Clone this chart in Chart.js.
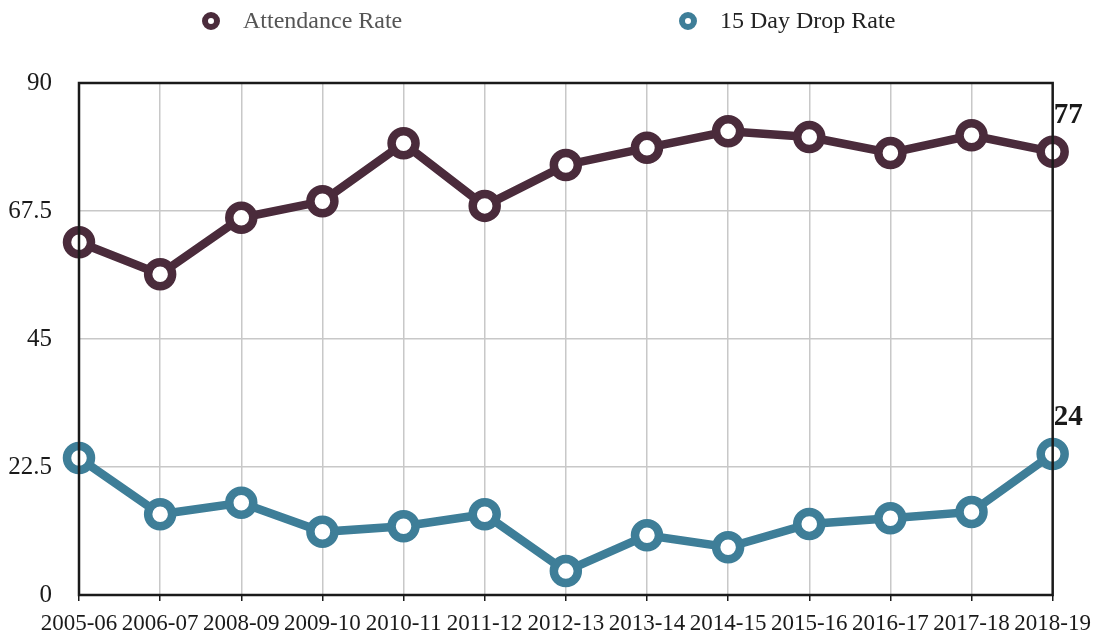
<!DOCTYPE html>
<html>
<head>
<meta charset="utf-8">
<script src="https://cdn.jsdelivr.net/npm/chart.js@4"></script>
<style>
  html, body { margin: 0; padding: 0; background: #fff; overflow: hidden; }
  #wrap { position: relative; width: 1100px; height: 634px; }
  canvas { display: block; }
  #legend { position: absolute; top: 0; left: 0; width: 1100px; height: 44px; font-family: "Liberation Serif", serif; font-size: 24px; }
  .item { position: absolute; top: 7px; display: flex; align-items: center; }
  .dot { width: 6px; height: 6px; border-radius: 50%; border: 6px solid; background: #fff; margin-right: 23px; }
</style>
</head>
<body>
<div id="wrap">
  <canvas id="c" width="1100" height="634"></canvas>
  <div id="legend"></div>
</div>
<script>
const categories = ["2005-06","2006-07","2008-09","2009-10","2010-11","2011-12","2012-13","2013-14","2014-15","2015-16","2016-17","2017-18","2018-19"];
const attendanceRate = [62.0, 56.4, 66.3, 69.2, 79.4, 68.4, 75.6, 78.6, 81.5, 80.5, 77.7, 80.8, 77.9];
const dropRate = [24.1, 14.2, 16.2, 11.1, 12.1, 14.2, 4.2, 10.5, 8.4, 12.5, 13.5, 14.6, 24.8];
const seriesNames = ["Attendance Rate", "15 Day Drop Rate"];
const yTicks = [0, 22.5, 45, 67.5, 90];

const colors = ["#4a2b3b", "#3e7e98"];
const textColors = ["#555", "#222"];
const legendX = [202, 679];

const legend = document.getElementById('legend');
seriesNames.forEach((n, i) => {
  const d = document.createElement('div');
  d.className = 'item';
  d.style.left = legendX[i] + 'px';
  d.style.color = textColors[i];
  d.innerHTML = '<span class="dot" style="border-color:' + colors[i] + '"></span><span>' + n + '</span>';
  legend.appendChild(d);
});

const frame = {
  id: 'frame',
  afterDatasetsDraw(chart) {
    const {ctx, chartArea: a} = chart;
    ctx.save();
    ctx.strokeStyle = '#1a1a1a';
    ctx.lineWidth = 2.5;
    ctx.strokeRect(a.left, a.top, a.right - a.left, a.bottom - a.top);
    ctx.restore();
  }
};

const endLabels = {
  id: 'endLabels',
  afterDraw(chart) {
    const {ctx} = chart;
    ctx.save();
    ctx.font = 'bold 29px "Liberation Serif", serif';
    ctx.fillStyle = '#1a1a1a';
    ctx.textAlign = 'left';
    ctx.textBaseline = 'middle';
    chart.data.datasets.forEach((ds, i) => {
      const meta = chart.getDatasetMeta(i);
      const last = meta.data[meta.data.length - 1];
      const v = ds.data[ds.data.length - 1];
      ctx.fillText(String(Math.floor(v)), last.x + 1, last.y - 36);
    });
    ctx.restore();
  }
};

new Chart(document.getElementById('c'), {
  type: 'line',
  data: {
    labels: categories,
    datasets: [
      { label: seriesNames[0], data: attendanceRate, borderColor: colors[0], backgroundColor: '#fff',
        borderWidth: 8.5, pointRadius: 12, pointBorderWidth: 8.5, pointBackgroundColor: '#fff', pointBorderColor: colors[0], tension: 0 },
      { label: seriesNames[1], data: dropRate, borderColor: colors[1], backgroundColor: '#fff',
        borderWidth: 8.5, pointRadius: 12, pointBorderWidth: 8.5, pointBackgroundColor: '#fff', pointBorderColor: colors[1], tension: 0 }
    ]
  },
  options: {
    responsive: false,
    animation: false,
    layout: { padding: { top: 83, right: 45, left: 0, bottom: 0 } },
    plugins: { legend: { display: false }, tooltip: { enabled: false } },
    scales: {
      x: {
        offset: false,
        afterFit(s) { s.height = 39; },
        grid: { color: '#c8c8c8', lineWidth: 1.5, drawTicks: true, tickLength: 6, tickColor: '#1a1a1a' },
        border: { display: false },
        ticks: { autoSkip: false, maxRotation: 0, minRotation: 0, padding: 9, color: '#1a1a1a',
                 font: { family: '"Liberation Serif", serif', size: 23 } }
      },
      y: {
        min: 0, max: 90,
        afterBuildTicks(s) { s.ticks = yTicks.map(v => ({ value: v })); },
        afterFit(s) { s.width = 79; },
        grid: { color: '#c8c8c8', lineWidth: 1.5, drawTicks: true, tickLength: 27, tickColor: 'rgba(0,0,0,0)' },
        border: { display: false },
        ticks: { padding: 0, color: '#1a1a1a', font: { family: '"Liberation Serif", serif', size: 25 } }
      }
    }
  },
  plugins: [frame, endLabels]
});
</script>
</body>
</html>
